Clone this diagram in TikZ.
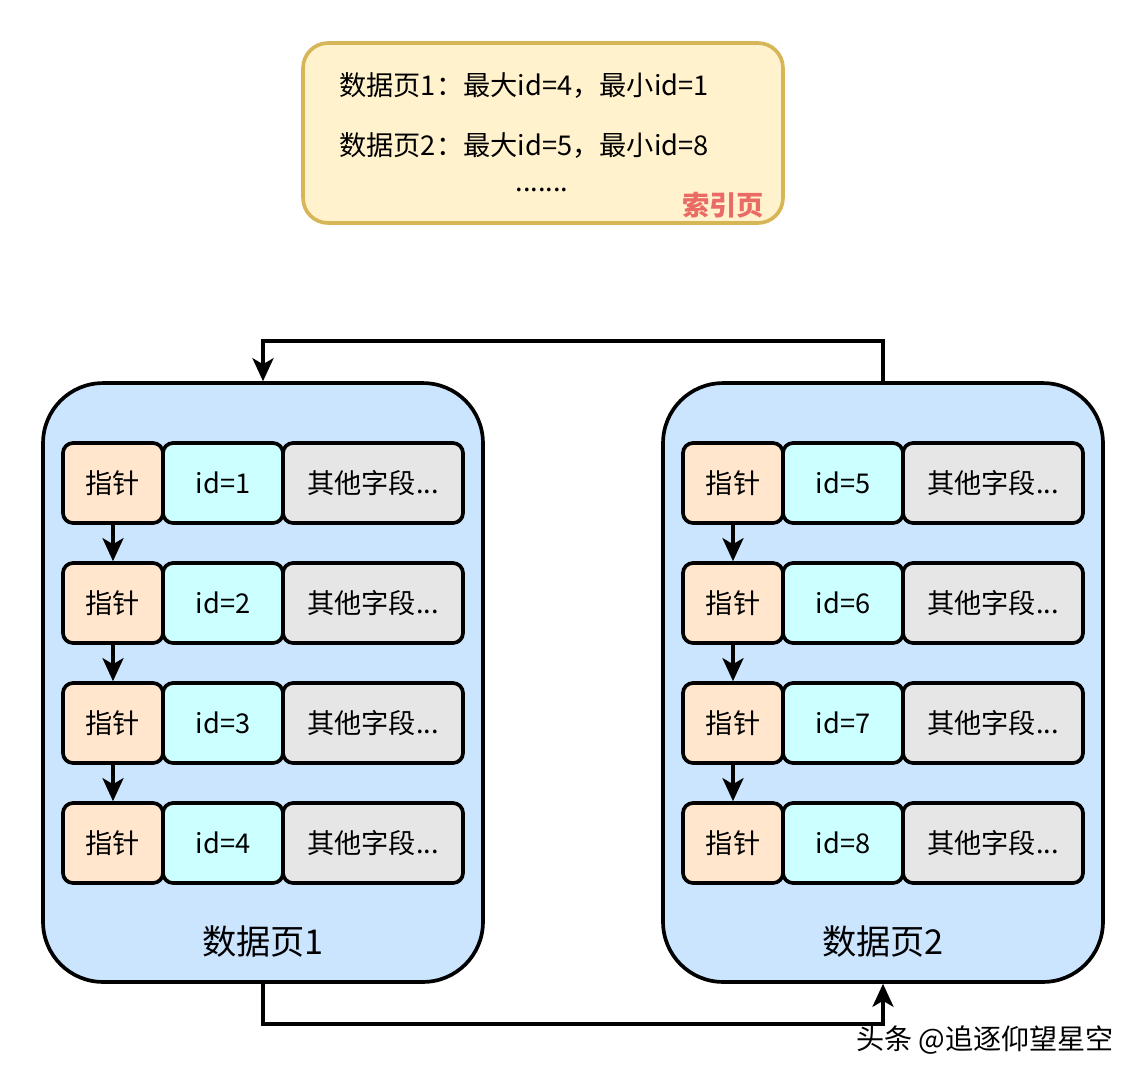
\documentclass[tikz,border=0pt]{standalone}
\usepackage{fontspec}
\setmainfont{Noto Sans CJK SC}
\usepackage{tikz}
\usetikzlibrary{arrows.meta}
\definecolor{pagefill}{HTML}{CCE5FF}
\definecolor{ptrfill}{HTML}{FFE6CC}
\definecolor{idfill}{HTML}{CCFFFF}
\definecolor{othfill}{HTML}{E6E6E6}
\definecolor{idxfill}{HTML}{FFF2CC}
\definecolor{idxline}{HTML}{D6B656}
\definecolor{idxred}{HTML}{EA6B66}
\tikzset{
  cell/.style={draw, line width=2.1pt, rounded corners=0.2cm, minimum height=1.6cm, inner sep=0pt, font=\fontsize{15.5}{18}\selectfont},
  ptrcell/.style={cell, fill=ptrfill, minimum width=2cm},
  idcell/.style={cell, fill=idfill, minimum width=2.4cm},
  othcell/.style={cell, fill=othfill, minimum width=3.6cm},
  datapage/.style={draw, line width=2.1pt, fill=pagefill, rounded corners=1.2cm, minimum width=8.8cm, minimum height=11.98cm, inner sep=0pt},
  link/.style={-{Stealth[length=0.46cm, width=0.42cm, inset=0.12cm]}, line width=2.1pt},
  idxtext/.style={font=\fontsize{15.5}{18}\selectfont},
}
\begin{document}
\begin{tikzpicture}[x=0.02cm, y=-0.02cm]
\useasboundingbox (0,0) rectangle (1144,1080);
% index page
\node[draw=idxline, fill=idxfill, line width=2.1pt, rounded corners=0.5cm, minimum width=9.6cm, minimum height=3.6cm] (index) at (543,133) {};
\node[anchor=west, idxtext] (idx1) at (333,85) {数据页1：最大id=4，最小id=1};
\node[anchor=west, idxtext] (idx2) at (333,145) {数据页2：最大id=5，最小id=8};
\node[idxtext] (idxdots) at (542,190) {.......};
\node[text=idxred, font=\fontsize{15.5}{18}\selectfont\bfseries] (idxname) at (723,205) {索引页};
% data pages
\foreach \p/\dx in {1/0,2/620} {
\node[datapage] (page\p) at (263+\dx,682.5) {};
\node[font=\fontsize{19.5}{22}\selectfont] (label\p) at (263+\dx,942) {数据页\p};
\foreach \r in {1,...,4} {
\pgfmathsetmacro\ry{363+120*\r}
\pgfmathtruncatemacro\idnum{\r+4*(\p-1)}
\node[ptrcell] (ptr\p-\r) at (113+\dx,\ry) {指针};
\node[idcell] (id\p-\r) at (223+\dx,\ry) {id=\idnum};
\node[othcell] (oth\p-\r) at (373+\dx,\ry) {其他字段...};
}
\foreach \r in {1,2,3} {
\pgfmathtruncatemacro\nr{\r+1}
\draw[link] (ptr\p-\r) -- (ptr\p-\nr);
}
}
% page links
\draw[link] (page2.north) -- ++(0,-40) -| (page1.north);
\draw[link] (page1.south) -- ++(0,40) -| (page2.south);
\node[font=\fontsize{16}{19}\selectfont] (mark) at (985,1040) {头条 @追逐仰望星空};
\end{tikzpicture}
\end{document}
